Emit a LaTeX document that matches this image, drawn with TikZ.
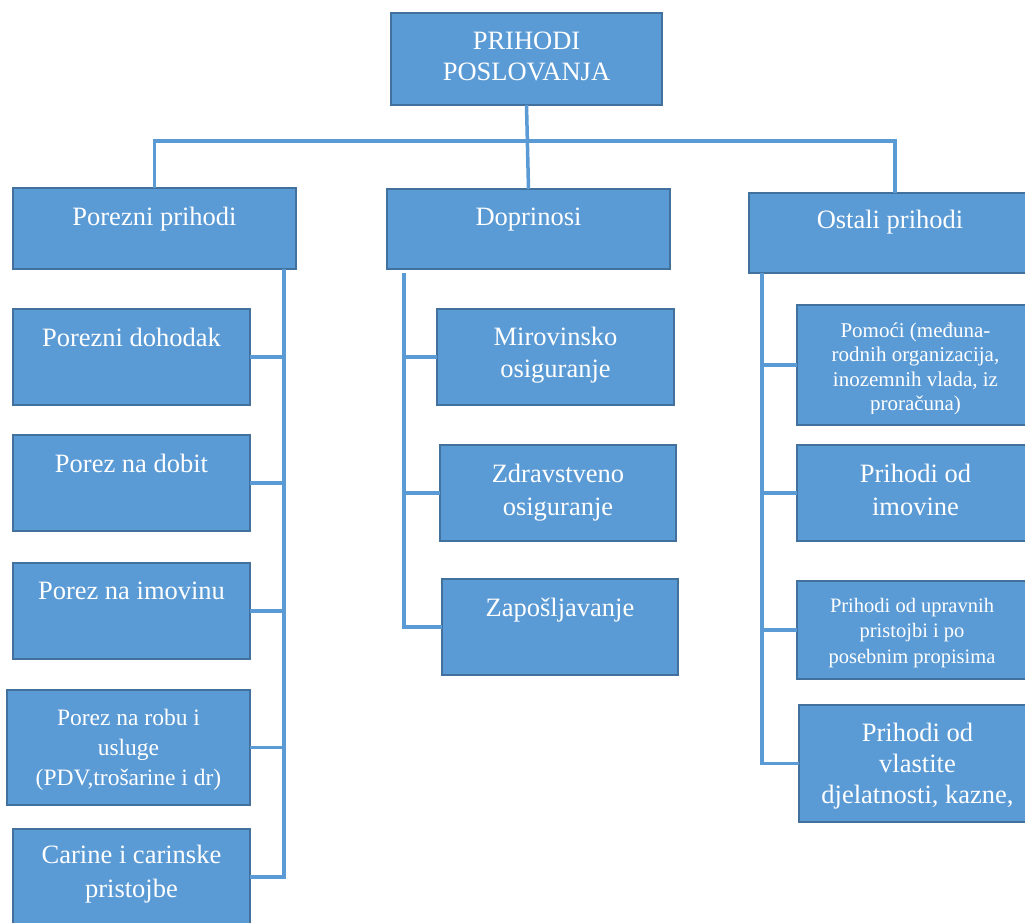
\documentclass[tikz,border=0pt]{standalone}
\usepackage{fontspec}
\setmainfont{Liberation Serif}
\definecolor{boxfill}{HTML}{5B9BD5}
\definecolor{boxline}{HTML}{41719C}
\definecolor{connc}{HTML}{5B9BD5}
\begin{document}
\begin{tikzpicture}[x=1pt,y=-1pt,
  box/.style={draw=boxline, fill=boxfill, line width=2.5pt, inner sep=0pt, outer sep=0pt},
  conn/.style={draw=connc, line width=3.5pt},
  txt/.style={text=white, align=center, inner sep=0pt, anchor=base, font=\fontsize{26.5}{32}\selectfont},
  txtm/.style={text=white, align=center, inner sep=0pt, anchor=base, font=\fontsize{23.5}{30}\selectfont},
  txts/.style={text=white, align=center, inner sep=0pt, anchor=base, font=\fontsize{20.5}{25}\selectfont}]
\useasboundingbox (0,0) rectangle (1025,922);
\clip (0,0) rectangle (1025,922);
% boxes
\node[box, minimum width=271pt, minimum height=92pt] (top) at (526.5,59) {};
\node[box, minimum width=283pt, minimum height=81pt] (pp) at (154.5,228.5) {};
\node[box, minimum width=283pt, minimum height=80pt] (dop) at (528.5,229) {};
\node[box, minimum width=292pt, minimum height=80pt] (op) at (895,233) {};
\node[box, minimum width=237pt, minimum height=96pt] (pd) at (131.5,357) {};
\node[box, minimum width=237pt, minimum height=96pt] (pdob) at (131.5,483) {};
\node[box, minimum width=237pt, minimum height=96pt] (pim) at (131.5,611) {};
\node[box, minimum width=243pt, minimum height=115pt] (prob) at (128.5,747.5) {};
\node[box, minimum width=237pt, minimum height=96pt] (car) at (131.5,877) {};
\node[box, minimum width=237pt, minimum height=96pt] (mir) at (555.5,357) {};
\node[box, minimum width=236pt, minimum height=96pt] (zdr) at (558,493) {};
\node[box, minimum width=236pt, minimum height=96pt] (zap) at (560,627) {};
\node[box, minimum width=237pt, minimum height=120pt] (pom) at (915.5,365) {};
\node[box, minimum width=237pt, minimum height=96pt] (pimo) at (915.5,493) {};
\node[box, minimum width=237pt, minimum height=98pt] (pupr) at (915.5,630) {};
\node[box, minimum width=237pt, minimum height=117pt] (pvl) at (917.5,763.5) {};
% connectors
\coordinate (tl) at (284,269);
\coordinate (tm) at (404,273);
\coordinate (tr) at (762,273);
\draw[conn] (top.south) -- (dop.north);
\draw[conn] (pp.north) -- ++(0,-47) -| (op.north);
\draw[conn] (tl) |- (car.east);
\draw[conn] (pd.east) -- (pd.east -| tl);
\draw[conn] (pdob.east) -- (pdob.east -| tl);
\draw[conn] (pim.east) -- (pim.east -| tl);
\draw[conn] (prob.east) -- (prob.east -| tl);
\draw[conn] (tm) |- (zap.west);
\draw[conn] (mir.west) -- (mir.west -| tm);
\draw[conn] (zdr.west) -- (zdr.west -| tm);
\draw[conn] (tr) |- (pvl.west);
\draw[conn] (pom.west) -- (pom.west -| tr);
\draw[conn] (pimo.west) -- (pimo.west -| tr);
\draw[conn] (pupr.west) -- (pupr.west -| tr);
% texts (multi-line nodes: base = last line)
\node[txt, font=\fontsize{26.5}{31}\selectfont] (ttop) at (526.5,80) {PRIHODI\\POSLOVANJA};
\node[txt] (tpp) at (154.5,225) {Porezni prihodi};
\node[txt] (tdop) at (528.5,225) {Doprinosi};
\node[txt] (top2) at (890,228) {Ostali prihodi};
\node[txt] (tpd) at (131.5,346) {Porezni dohodak};
\node[txt] (tpdob) at (131.5,472) {Porez na dobit};
\node[txt] (tpim) at (131.5,599) {Porez na imovinu};
\node[txtm] (tprob) at (128.5,785) {Porez na robu i\\usluge\\(PDV,trošarine i dr)};
\node[txt, font=\fontsize{26.5}{34}\selectfont] (tcar) at (131.5,897) {Carine i carinske\\pristojbe};
\node[txt] (tmir) at (555.5,377) {Mirovinsko\\osiguranje};
\node[txt, font=\fontsize{26.5}{33}\selectfont] (tzdr) at (558,515) {Zdravstveno\\osiguranje};
\node[txt] (tzap) at (560,616) {Zapošljavanje};
\begin{scope}
\clip (797,305) rectangle (1034,413);
\node[txts, font=\fontsize{21}{24.5}\selectfont] (tpom) at (915.5,410.5) {Pomoći (međuna-\\rodnih organizacija,\\inozemnih vlada, iz\\proračuna)};
\end{scope}
\node[txt, font=\fontsize{26.5}{33}\selectfont] (tpimo) at (915.5,515) {Prihodi od\\imovine};
\node[txts, font=\fontsize{20.5}{25.5}\selectfont] (tpupr) at (912,663) {Prihodi od upravnih\\pristojbi i po\\posebnim propisima};
\node[txt, font=\fontsize{26.5}{31}\selectfont] (tpvl) at (917.5,803) {Prihodi od\\vlastite\\djelatnosti, kazne,};
\end{tikzpicture}
\end{document}
